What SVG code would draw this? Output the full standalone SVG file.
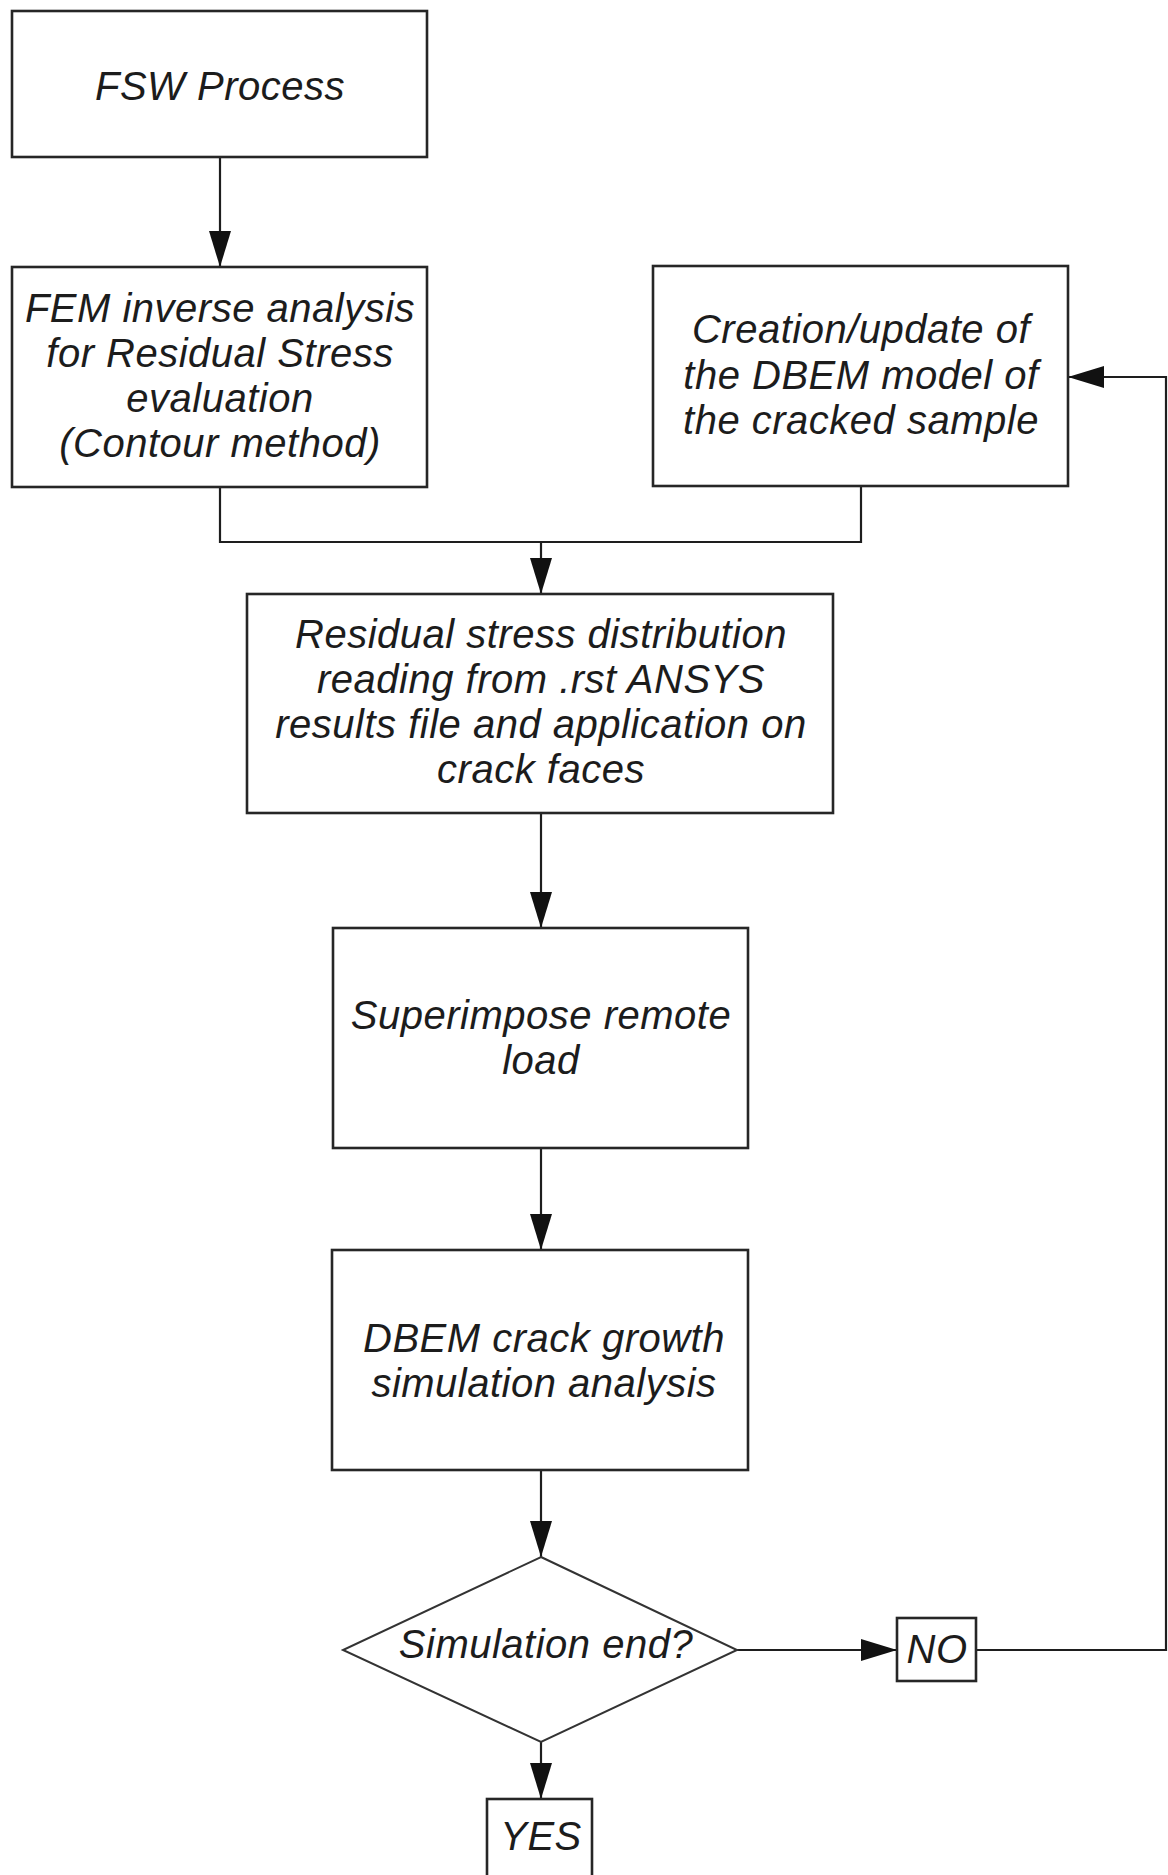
<svg xmlns="http://www.w3.org/2000/svg" width="1168" height="1875" viewBox="0 0 1168 1875">
  <style>
    .box { fill: #ffffff; stroke: #262626; stroke-width: 2.6; }
    .dia { fill: #ffffff; stroke: #333333; stroke-width: 2; }
    .lbl { font-family: "Liberation Sans", Arial, sans-serif; font-style: italic; font-size: 40px; letter-spacing: 0.5px; fill: #1c1c1c; text-anchor: middle; }
    .wire { fill: none; stroke: #1e1e1e; stroke-width: 2.2; }
  </style>
  <defs>
    <marker id="arrow" markerUnits="userSpaceOnUse" markerWidth="36" markerHeight="22" refX="36" refY="11" orient="auto">
      <path d="M0,0 L36,11 L0,22 Z" fill="#111111"/>
    </marker>
  </defs>
  <rect width="1168" height="1875" fill="#ffffff"/>

  <!-- connectors -->
  <g id="connectors">
    <path class="wire" d="M220,157 L220,267" marker-end="url(#arrow)"/>
    <path class="wire" d="M220,487 L220,542 L861,542 L861,486"/>
    <path class="wire" d="M541,542 L541,594" marker-end="url(#arrow)"/>
    <path class="wire" d="M541,813 L541,928" marker-end="url(#arrow)"/>
    <path class="wire" d="M541,1148 L541,1250" marker-end="url(#arrow)"/>
    <path class="wire" d="M541,1470 L541,1557" marker-end="url(#arrow)"/>
    <path class="wire" d="M541,1742 L541,1799" marker-end="url(#arrow)"/>
    <path class="wire" d="M737,1650 L897,1650" marker-end="url(#arrow)"/>
    <path class="wire" d="M976,1650 L1166,1650 L1166,377 L1068,377" marker-end="url(#arrow)"/>
  </g>

  <g id="fsw-process">
    <rect class="box" x="12" y="11" width="415" height="146"/>
    <text class="lbl" x="220" y="100">FSW Process</text>
  </g>

  <g id="fem-inverse">
    <rect class="box" x="12" y="267" width="415" height="220"/>
    <text class="lbl" x="220" y="322">FEM inverse analysis</text>
    <text class="lbl" x="220" y="367">for Residual Stress</text>
    <text class="lbl" x="220" y="412">evaluation</text>
    <text class="lbl" x="220" y="457">(Contour method)</text>
  </g>

  <g id="dbem-model">
    <rect class="box" x="653" y="266" width="415" height="220"/>
    <text class="lbl" x="861" y="343">Creation/update of</text>
    <text class="lbl" x="861" y="389">the DBEM model of</text>
    <text class="lbl" x="861" y="434">the cracked sample</text>
  </g>

  <g id="residual-stress">
    <rect class="box" x="247" y="594" width="586" height="219"/>
    <text class="lbl" x="541" y="648">Residual stress distribution</text>
    <text class="lbl" x="541" y="693">reading from .rst ANSYS</text>
    <text class="lbl" x="541" y="738">results file and application on</text>
    <text class="lbl" x="541" y="783">crack faces</text>
  </g>

  <g id="superimpose">
    <rect class="box" x="333" y="928" width="415" height="220"/>
    <text class="lbl" x="541" y="1029">Superimpose remote</text>
    <text class="lbl" x="541" y="1074">load</text>
  </g>

  <g id="crack-growth">
    <rect class="box" x="332" y="1250" width="416" height="220"/>
    <text class="lbl" x="544" y="1352">DBEM crack growth</text>
    <text class="lbl" x="544" y="1397">simulation analysis</text>
  </g>

  <g id="simulation-end">
    <polygon class="dia" points="541,1557 737,1650 541,1742 343,1650"/>
    <text class="lbl" x="546" y="1658">Simulation end?</text>
  </g>

  <g id="no">
    <rect class="box" x="897" y="1618" width="79" height="63"/>
    <text class="lbl" x="937" y="1663">NO</text>
  </g>

  <g id="yes">
    <rect class="box" x="487" y="1799" width="105" height="90"/>
    <text class="lbl" x="541" y="1850">YES</text>
  </g>
</svg>
